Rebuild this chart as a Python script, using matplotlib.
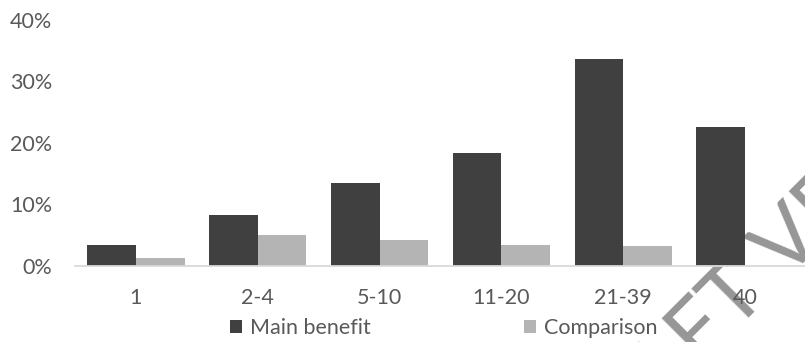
import matplotlib
matplotlib.use("Agg")
import matplotlib.pyplot as plt
import numpy as np
from matplotlib.ticker import PercentFormatter

categories = ["1", "2-4", "5-10", "11-20", "21-39", "40"]
main_benefit = [0.033, 0.082, 0.134, 0.183, 0.337, 0.226]
comparison = [0.013, 0.049, 0.041, 0.033, 0.031, 0.0]
yticks = [0, 0.1, 0.2, 0.3, 0.4]

plt.rcParams['font.family'] = ['Lato', 'DejaVu Sans']
text_color = '#595959'
fs = 15.5

W, H = 805, 342
fig = plt.figure(figsize=(W / 100, H / 100), dpi=100)
left, right, bottom, top = 75, 806, 265.5, 20
ax = fig.add_axes([left / W, (H - bottom) / H, (right - left) / W, (bottom - top) / H])
ax.patch.set_alpha(0)

x = np.arange(len(categories))
bw = 0.4
ax.bar(x - bw / 2, main_benefit, width=bw, color='#404040', label='Main benefit', zorder=2)
ax.bar(x + bw / 2, comparison, width=bw, color='#B4B4B4', label='Comparison', zorder=2)

ax.set_xlim(-0.5, len(categories) - 0.5)
ax.set_ylim(0, 0.4)
ax.set_yticks(yticks)
ax.yaxis.set_major_formatter(PercentFormatter(1.0, decimals=0))
ax.set_xticks(x)
ax.set_xticklabels(categories)
ax.tick_params(axis='both', length=0, labelsize=fs, colors=text_color)
ax.tick_params(axis='y', pad=16.6)
ax.tick_params(axis='x', pad=16)
for s in ['top', 'right', 'left']:
    ax.spines[s].set_visible(False)
ax.spines['bottom'].set_color('#D9D9D9')
ax.spines['bottom'].set_linewidth(1.3)
ax.spines['bottom'].set_zorder(3)

leg = fig.legend(loc='center', bbox_to_anchor=(443.5 / W, (H - 328) / H), ncol=2,
                 frameon=False, fontsize=fs, handlelength=0.56, handleheight=0.56,
                 handletextpad=0.37, columnspacing=7.1, borderpad=0)
for t in leg.get_texts():
    t.set_color(text_color)

fig.text(793 / W, (H - 240) / H, "DRAFT VERSION", rotation=45, ha='center', va='center',
         fontsize=62, color='#969696', fontweight='normal', zorder=-1)

fig.savefig("out.png", dpi=100)
